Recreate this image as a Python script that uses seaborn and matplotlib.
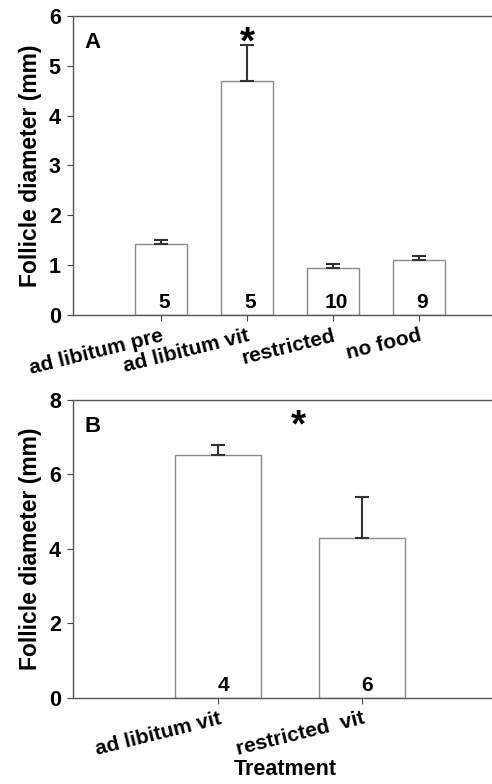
import pandas as pd
import seaborn as sns
import matplotlib.pyplot as plt

# panel A
groups_a = ["ad libitum pre", "ad libitum vit", "restricted", "no food"]
means_a = [1.43, 4.69, 0.95, 1.10]
sem_a = [0.08, 0.72, 0.07, 0.08]
n_a = ["5", "5", "10", "9"]

# panel B
groups_b = ["ad libitum vit", "restricted  vit"]
means_b = [6.52, 4.30]
sem_b = [0.28, 1.08]
n_b = ["4", "6"]

sns.set_style("ticks")
plt.rcParams["font.family"] = ["Liberation Sans", "DejaVu Sans"]
plt.rcParams["font.weight"] = "bold"
plt.rcParams["text.color"] = "black"
plt.rcParams["xtick.color"] = "#444444"
plt.rcParams["ytick.color"] = "#444444"
plt.rcParams["xtick.labelcolor"] = "black"
plt.rcParams["ytick.labelcolor"] = "black"
plt.rcParams["axes.labelcolor"] = "black"

fig = plt.figure(figsize=(4.92, 7.84), dpi=100)
ax1 = fig.add_axes([0.149, 0.598, 0.86, 0.382])
ax2 = fig.add_axes([0.149, 0.110, 0.86, 0.380])


def panel(ax, groups, means, sem, ns, ymax, ystep, xlim, letter, star_x, star_y):
    df = pd.DataFrame({"group": groups, "mean": means})
    sns.barplot(data=df, x="group", y="mean", color="white", width=0.6,
                edgecolor="#8a8a8a", linewidth=1.0, errorbar=None, ax=ax)
    xs = range(len(groups))
    ax.errorbar(xs, means, yerr=[[0] * len(sem), sem], fmt="none",
                ecolor="#333333", elinewidth=1.5, capsize=5, capthick=1.5)
    for x, n in zip(xs, ns):
        ax.text(x + 0.035, ymax * 0.01, n, ha="center", va="bottom",
                fontsize=15, fontweight="bold")
    ax.set_ylim(0, ymax)
    ax.set_yticks(range(0, ymax + 1, ystep))
    ax.set_xlim(*xlim)
    ax.set_xlabel("")
    ax.set_ylabel("Follicle diameter (mm)", fontsize=16.5, fontweight="bold",
                  labelpad=5)
    ax.set_xticks(list(xs))
    ax.set_xticklabels(groups, rotation=14, ha="right", rotation_mode="anchor",
                       fontsize=15, fontweight="bold")
    ax.tick_params(axis="y", labelsize=15.5, direction="out", length=4, pad=5)
    ax.tick_params(axis="x", direction="out", length=4, pad=4)
    for lab in ax.get_yticklabels():
        lab.set_fontweight("bold")
    for s in ["left", "bottom", "top"]:
        ax.spines[s].set_color("#555555")
        ax.spines[s].set_linewidth(1.0)
    ax.spines["right"].set_visible(False)
    ax.text(0.027, 0.945, letter, transform=ax.transAxes, fontsize=16,
            fontweight="bold", va="top")
    ax.text(star_x, star_y, "*", ha="center", va="center", fontsize=28,
            fontweight="bold")


panel(ax1, groups_a, means_a, sem_a, n_a, 6, 1, (-1.02, 3.9), "A", 1, 5.45)
panel(ax2, groups_b, means_b, sem_b, n_b, 8, 2, (-1.01, 1.94), "B", 0.56, 7.28)
ax2.set_xlabel("Treatment", fontsize=15.5, fontweight="bold", labelpad=0)

fig.savefig("out.png", dpi=100)
